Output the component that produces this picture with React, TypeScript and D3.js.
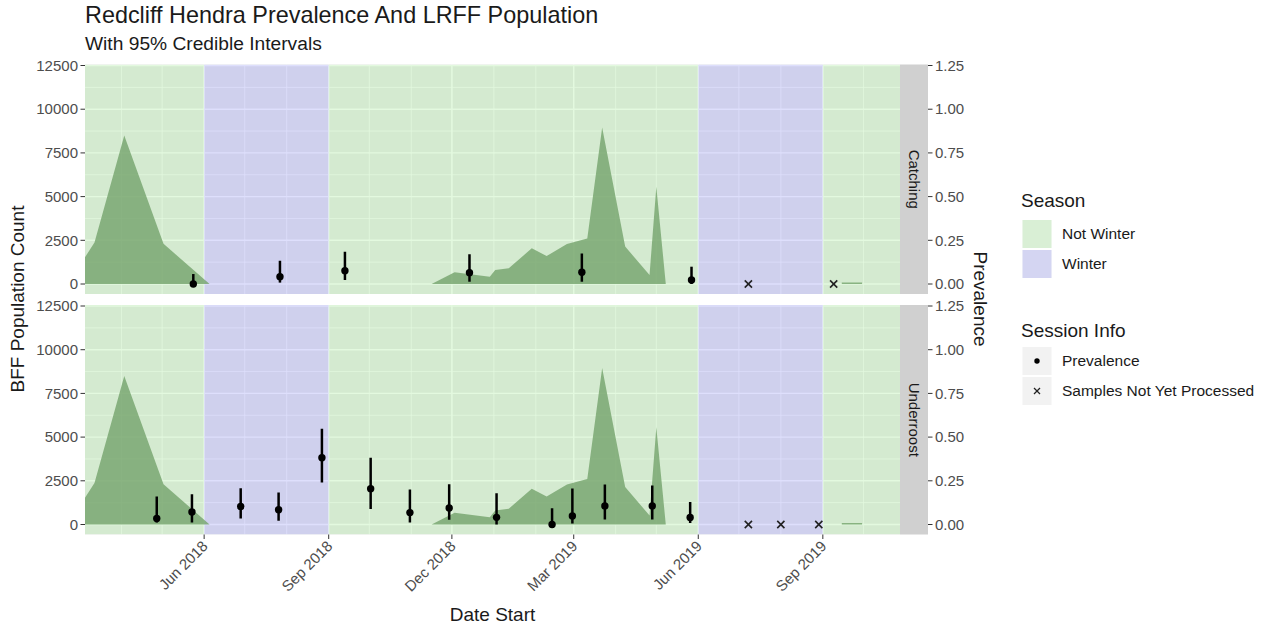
import React from "react";
import * as d3 from "d3";

// ---------- data ----------
const parse = d3.timeParse("%Y-%m-%d");

// Flying-fox population counts (null marks a gap in the survey record)
const popDates: (string | null)[] = [
  "2018-03-05", "2018-03-12", "2018-04-03", "2018-05-02", "2018-06-05", null,
  "2018-11-16", "2018-12-03", "2018-12-29", "2019-01-02", "2019-01-12", "2019-01-29",
  "2019-02-09", "2019-02-24", "2019-03-11", "2019-03-22", "2019-04-08", "2019-04-26",
  "2019-05-01", "2019-05-08", null,
  "2019-09-15", "2019-09-30",
];
const popCounts: (number | null)[] = [
  1530, 2380, 8500, 2300, 0, null,
  0, 670, 420, 800, 900, 2040,
  1600, 2290, 2610, 8960, 2140, 515,
  5570, 0, null,
  90, 90,
];

// Season bands
const seasonStarts = ["2018-03-01", "2018-06-01", "2018-09-01", "2019-06-01", "2019-09-01"];
const seasonEnds = ["2018-06-01", "2018-09-01", "2019-06-01", "2019-09-01", "2019-11-01"];
const seasonNames = ["Not Winter", "Winter", "Not Winter", "Winter", "Not Winter"];

// Catching sessions: prevalence with 95% credible interval
const catchDates = ["2018-05-24", "2018-07-27", "2018-09-13", "2018-12-14", "2019-03-07", "2019-05-27"];
const catchPrev = [0.0, 0.042, 0.076, 0.065, 0.067, 0.023];
const catchLo = [0.0, 0.008, 0.023, 0.013, 0.013, 0.0];
const catchHi = [0.057, 0.133, 0.185, 0.17, 0.175, 0.099];
const catchPending = ["2019-07-08", "2019-09-09"];

// Underroost sessions
const roostDates = [
  "2018-04-27", "2018-05-23", "2018-06-28", "2018-07-26", "2018-08-27", "2018-10-02", "2018-10-31",
  "2018-11-29", "2019-01-03", "2019-02-13", "2019-02-28", "2019-03-24", "2019-04-28", "2019-05-26",
];
const roostPrev = [0.034, 0.072, 0.103, 0.084, 0.382, 0.205, 0.068, 0.094, 0.041, 0.0, 0.049, 0.106, 0.106, 0.04];
const roostLo = [0.011, 0.011, 0.034, 0.021, 0.24, 0.088, 0.011, 0.027, 0.0, 0.0, 0.006, 0.029, 0.029, 0.008];
const roostHi = [0.16, 0.173, 0.207, 0.183, 0.548, 0.382, 0.2, 0.23, 0.179, 0.093, 0.206, 0.229, 0.223, 0.129];
const roostPending = ["2019-07-08", "2019-08-01", "2019-08-29"];

const facetNames = ["Catching", "Underroost"];

const countTicks = [0, 2500, 5000, 7500, 10000, 12500];
const countMinorTicks = [1250, 3750, 6250, 8750, 11250];
const prevTicks = [0, 0.25, 0.5, 0.75, 1.0, 1.25];
const dateTicks = ["2018-06-01", "2018-09-01", "2018-12-01", "2019-03-01", "2019-06-01", "2019-09-01"];

// prevalence is drawn on the count axis scaled by this factor
const PREV_SCALE = 10000;

// ---------- styling ----------
const FONT = "'Liberation Sans', Arial, Helvetica, sans-serif";
const seasonFill: Record<string, string> = {
  "Not Winter": "rgba(143,231,127,0.25)",
  Winter: "rgba(123,127,243,0.25)",
};
const areaFill = "rgba(118,165,110,0.82)";

const PANEL_L = 85;
const PANEL_R = 900;
const PANEL_H = 229.5;
const PANEL_TOPS = [64.5, 305];
const STRIP_W = 28;
const TICK_FS = 15;

export default function App() {
  const x = d3
    .scaleTime()
    .domain([parse("2018-03-05")!, parse("2019-10-28")!])
    .range([PANEL_L, PANEL_R]);

  const pop = popDates.map((d, i) => ({ date: d ? parse(d) : null, count: popCounts[i] }));
  const minorDates = d3.timeMonth.range(x.domain()[0], x.domain()[1]);

  const facets = [
    {
      name: facetNames[0],
      dates: catchDates, prev: catchPrev, lo: catchLo, hi: catchHi, pending: catchPending,
    },
    {
      name: facetNames[1],
      dates: roostDates, prev: roostPrev, lo: roostLo, hi: roostHi, pending: roostPending,
    },
  ];

  const fmt = d3.timeFormat("%b %Y");

  return (
    <svg
      width={1263}
      height={626}
      style={{ position: "absolute", left: 0, top: 0, background: "#fff" }}
      fontFamily={FONT}
    >
      {/* titles */}
      <text x={85} y={23} fontSize={23.4} fill="#1a1a1a">
        Redcliff Hendra Prevalence And LRFF Population
      </text>
      <text x={85} y={50} fontSize={19.2} fill="#1a1a1a">
        With 95% Credible Intervals
      </text>

      {facets.map((f, fi) => {
        const top = PANEL_TOPS[fi];
        const y = d3.scaleLinear().domain([-572, 12558]).range([top + PANEL_H, top]);
        const area = d3
          .area<{ date: Date | null; count: number | null }>()
          .defined((d) => d.date != null && d.count != null)
          .x((d) => x(d.date as Date))
          .y0(y(0))
          .y1((d) => y(d.count as number));
        const clipId = `clip-${fi}`;
        return (
          <g key={f.name}>
            <defs>
              <clipPath id={clipId}>
                <rect x={PANEL_L} y={top} width={PANEL_R - PANEL_L} height={PANEL_H} />
              </clipPath>
            </defs>
            <rect x={PANEL_L} y={top} width={PANEL_R - PANEL_L} height={PANEL_H} fill="#ebebeb" />
            <g clipPath={`url(#${clipId})`}>
              {/* grid */}
              {countMinorTicks.map((t) => (
                <line key={`hm${t}`} x1={PANEL_L} x2={PANEL_R} y1={y(t)} y2={y(t)} stroke="#fff" strokeWidth={0.75} />
              ))}
              {minorDates.map((d) => (
                <line key={`vm${+d}`} x1={x(d)} x2={x(d)} y1={top} y2={top + PANEL_H} stroke="#fff" strokeWidth={0.75} />
              ))}
              {countTicks.map((t) => (
                <line key={`h${t}`} x1={PANEL_L} x2={PANEL_R} y1={y(t)} y2={y(t)} stroke="#fff" strokeWidth={1.4} />
              ))}
              {dateTicks.map((d) => (
                <line key={`v${d}`} x1={x(parse(d)!)} x2={x(parse(d)!)} y1={top} y2={top + PANEL_H} stroke="#fff" strokeWidth={1.4} />
              ))}
              {/* season bands */}
              {seasonStarts.map((s, i) => (
                <rect
                  key={`s${i}`}
                  x={x(parse(s)!)}
                  y={top}
                  width={x(parse(seasonEnds[i])!) - x(parse(s)!)}
                  height={PANEL_H}
                  fill={seasonFill[seasonNames[i]]}
                />
              ))}
              {/* population */}
              <path d={area(pop) || ""} fill={areaFill} />
              {/* credible intervals */}
              {f.dates.map((d, i) => (
                <line
                  key={`e${i}`}
                  x1={x(parse(d)!)}
                  x2={x(parse(d)!)}
                  y1={y(f.lo[i] * PREV_SCALE)}
                  y2={y(f.hi[i] * PREV_SCALE)}
                  stroke="#000"
                  strokeWidth={2.5}
                />
              ))}
              {f.dates.map((d, i) => (
                <circle key={`p${i}`} cx={x(parse(d)!)} cy={y(f.prev[i] * PREV_SCALE)} r={3.7} fill="#000" />
              ))}
              {f.pending.map((d, i) => {
                const cx = x(parse(d)!);
                const cy = y(0);
                const s = 3.6;
                return (
                  <g key={`x${i}`} stroke="#222" strokeWidth={1.6}>
                    <line x1={cx - s} x2={cx + s} y1={cy - s} y2={cy + s} />
                    <line x1={cx - s} x2={cx + s} y1={cy + s} y2={cy - s} />
                  </g>
                );
              })}
            </g>

            {/* left axis */}
            {countTicks.map((t) => (
              <g key={`ly${t}`}>
                <line x1={PANEL_L - 4.5} x2={PANEL_L} y1={y(t)} y2={y(t)} stroke="#333" strokeWidth={1} />
                <text x={PANEL_L - 7} y={y(t)} dy="0.35em" textAnchor="end" fontSize={TICK_FS} fill="#4d4d4d">
                  {t}
                </text>
              </g>
            ))}

            {/* strip */}
            <rect x={PANEL_R} y={top} width={STRIP_W} height={PANEL_H} fill="#d0d0d0" />
            <text
              transform={`translate(${PANEL_R + STRIP_W / 2},${top + PANEL_H / 2}) rotate(90)`}
              textAnchor="middle"
              dy="0.35em"
              fontSize={TICK_FS}
              fill="#1a1a1a"
            >
              {f.name}
            </text>

            {/* right axis */}
            {prevTicks.map((t) => (
              <g key={`ry${t}`}>
                <line
                  x1={PANEL_R + STRIP_W}
                  x2={PANEL_R + STRIP_W + 4.5}
                  y1={y(t * PREV_SCALE)}
                  y2={y(t * PREV_SCALE)}
                  stroke="#333"
                  strokeWidth={1}
                />
                <text x={PANEL_R + STRIP_W + 7} y={y(t * PREV_SCALE)} dy="0.35em" fontSize={TICK_FS} fill="#4d4d4d">
                  {t.toFixed(2)}
                </text>
              </g>
            ))}
          </g>
        );
      })}

      {/* bottom axis */}
      {dateTicks.map((d) => {
        const tx = x(parse(d)!);
        const by = PANEL_TOPS[1] + PANEL_H;
        return (
          <g key={`xt${d}`}>
            <line x1={tx} x2={tx} y1={by} y2={by + 4.5} stroke="#333" strokeWidth={1} />
            <text
              transform={`translate(${tx - 3},${by + 5}) rotate(-45)`}
              textAnchor="end"
              dy="0.72em"
              fontSize={TICK_FS}
              fill="#4d4d4d"
            >
              {fmt(parse(d)!)}
            </text>
          </g>
        );
      })}

      {/* axis titles */}
      <text x={(PANEL_L + PANEL_R) / 2} y={621} textAnchor="middle" fontSize={19} fill="#1a1a1a">
        Date Start
      </text>
      <text transform="translate(24,299) rotate(-90)" textAnchor="middle" fontSize={19} fill="#1a1a1a">
        BFF Population Count
      </text>
      <text transform="translate(974,299) rotate(90)" textAnchor="middle" fontSize={19} fill="#1a1a1a">
        Prevalence
      </text>

      {/* legend: season */}
      <text x={1021} y={207} fontSize={19} fill="#1a1a1a">
        Season
      </text>
      {["Not Winter", "Winter"].map((s, i) => (
        <g key={s}>
          <rect x={1022.5} y={220 + i * 30} width={29} height={28} fill="#f2f2f2" />
          <rect x={1022.5} y={220 + i * 30} width={29} height={28} fill={seasonFill[s]} />
          <text x={1062} y={234 + i * 30} dy="0.35em" fontSize={15.5} fill="#1a1a1a">
            {s}
          </text>
        </g>
      ))}

      {/* legend: session info */}
      <text x={1021} y={337} fontSize={19} fill="#1a1a1a">
        Session Info
      </text>
      <rect x={1022.5} y={347} width={29} height={28} fill="#f2f2f2" />
      <rect x={1022.5} y={377} width={29} height={28} fill="#f2f2f2" />
      <circle cx={1037} cy={361} r={2.7} fill="#000" />
      <g stroke="#222" strokeWidth={1.3}>
        <line x1={1034} x2={1040} y1={388} y2={394} />
        <line x1={1034} x2={1040} y1={394} y2={388} />
      </g>
      <text x={1062} y={361} dy="0.35em" fontSize={15.5} fill="#1a1a1a">
        Prevalence
      </text>
      <text x={1062} y={391} dy="0.35em" fontSize={15.5} fill="#1a1a1a">
        Samples Not Yet Processed
      </text>
    </svg>
  );
}
